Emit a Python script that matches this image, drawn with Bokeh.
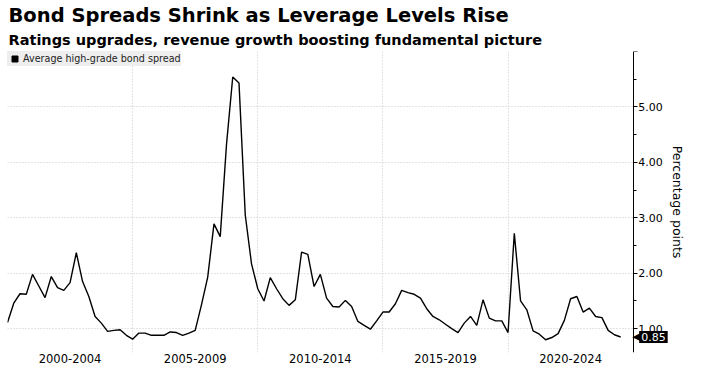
from bokeh.plotting import figure
from bokeh.models import (FixedTicker, NumeralTickFormatter, Range1d, Title, Legend,
                          LegendItem, Label, ColumnDataSource)
from bokeh.embed import file_html
from bokeh.resources import INLINE

# ---------------- data ----------------
title_text = "Bond Spreads Shrink as Leverage Levels Rise"
subtitle_text = "Ratings upgrades, revenue growth boosting fundamental picture"
series_name = "Average high-grade bond spread"
axis_title = "Percentage points"

start_year = 2000          # first quarter of the series (2000 Q1)
periods_per_year = 4       # quarterly observations

spread = [
    1.11, 1.46, 1.63, 1.62, 1.98, 1.77, 1.56, 1.94, 1.74, 1.69,
    1.83, 2.37, 1.85, 1.58, 1.22, 1.10, 0.95, 0.97, 0.98, 0.88,
    0.81, 0.92, 0.92, 0.88, 0.88, 0.88, 0.94, 0.93, 0.88, 0.92,
    0.97, 1.43, 1.93, 2.89, 2.66, 4.32, 5.54, 5.43, 3.05, 2.17,
    1.72, 1.50, 1.92, 1.72, 1.54, 1.42, 1.52, 2.38, 2.34, 1.76,
    1.98, 1.55, 1.40, 1.39, 1.51, 1.40, 1.13, 1.06, 0.99, 1.14,
    1.30, 1.30, 1.45, 1.69, 1.65, 1.62, 1.55, 1.36, 1.22, 1.16,
    1.08, 1.00, 0.93, 1.10, 1.22, 1.06, 1.52, 1.19, 1.14, 1.14,
    0.93, 2.72, 1.50, 1.34, 0.96, 0.90, 0.80, 0.84, 0.91, 1.15,
    1.54, 1.58, 1.30, 1.37, 1.22, 1.20, 0.97, 0.89, 0.85,
]

period_labels = ["2000-2004", "2005-2009", "2010-2014", "2015-2019", "2020-2024"]
period_starts = [2000, 2005, 2010, 2015, 2020]
period_length = 5

y_ticks = [1, 2, 3, 4, 5, 6]
y_minor_ticks = [0.5, 1.5, 2.5, 3.5, 4.5, 5.5]

# ---------------- derived ----------------
x_vals = [start_year + i / periods_per_year for i in range(len(spread))]
source = ColumnDataSource(data=dict(x=x_vals, y=spread))
label_positions = [s + period_length / 2 for s in period_starts]
x_end = period_starts[-1] + period_length   # where the value axis sits
x_view_end = x_end + 2.25                    # room right of the axis for its labels

FONT = "DejaVu Sans"

p = figure(width=689, height=365, output_backend="svg", toolbar_location=None,
           x_range=Range1d(start_year, x_view_end), y_range=Range1d(0.57, 6.0),
           y_axis_location="right", title=None,
           min_border_left=7, min_border_right=0, min_border_top=51, min_border_bottom=0)
p.outline_line_color = None
p.background_fill_color = "white"
p.border_fill_color = "white"

# titles (subtitle added first so it sits closest to the plot)
p.add_layout(Title(text=subtitle_text, text_font=FONT, text_font_size="14.5px",
                   text_font_style="bold", text_color="black", standoff=7,
                   offset=1), "above")
p.add_layout(Title(text=title_text, text_font=FONT, text_font_size="19.5px",
                   text_font_style="bold", text_color="black", standoff=0,
                   offset=1), "above")

# line
p.line("x", "y", source=source, line_color="black", line_width=1.4)

# legend square (invisible point, used only for the legend glyph)
sq = p.scatter(x=[float("nan")], y=[float("nan")], marker="square",
               fill_color="black", line_color="black")
legend = Legend(items=[LegendItem(label=series_name, renderers=[sq])],
                location="top_left", margin=0, padding=4, spacing=0,
                glyph_width=15, glyph_height=15, label_standoff=1,
                label_height=15, label_text_font=FONT, label_text_font_size="9.6px",
                label_text_color="#222222", background_fill_color="#eeeeee",
                background_fill_alpha=1.0, border_line_color=None)
p.add_layout(legend)

# grids
p.xgrid.ticker = FixedTicker(ticks=period_starts)
p.ygrid.ticker = FixedTicker(ticks=y_ticks)
for g in (p.xgrid[0], p.ygrid[0]):
    g.grid_line_color = "#c8c8c8"
    g.grid_line_dash = "1 2"
    g.grid_line_width = 1
if "cross_bounds" in p.ygrid[0].properties():
    p.ygrid[0].cross_bounds = (start_year, x_end)

# x axis: period labels, no line / ticks
xa = p.xaxis[0]
xa.ticker = FixedTicker(ticks=label_positions)
xa.major_label_overrides = {pos: lab for pos, lab in zip(label_positions, period_labels)}
xa.axis_line_color = None
xa.major_tick_line_color = None
xa.major_tick_out = 0
xa.major_tick_in = 0
xa.minor_tick_line_color = None
xa.minor_tick_out = 0
xa.major_label_text_font = FONT
xa.major_label_text_font_size = "11.5px"
xa.major_label_text_color = "black"
xa.major_label_standoff = 1

# y axis (right), pinned at the end of the time span
ya = p.yaxis[0]
ya.fixed_location = x_end
ya.ticker = FixedTicker(ticks=y_ticks, minor_ticks=y_minor_ticks)
ya.formatter = NumeralTickFormatter(format="0.00")
ya.major_label_overrides = {y_ticks[-1]: ""}
ya.axis_line_color = "black"
ya.axis_line_width = 1
ya.major_tick_line_color = "black"
ya.major_tick_out = 4
ya.major_tick_in = 0
ya.minor_tick_line_color = "black"
ya.minor_tick_out = 3
ya.minor_tick_in = 0
ya.major_label_text_font = FONT
ya.major_label_text_font_size = "11px"
ya.major_label_text_color = "black"
ya.major_label_standoff = 1
ya.axis_label = axis_title
ya.axis_label_text_font = FONT
ya.axis_label_text_font_size = "12.5px"
ya.axis_label_text_font_style = "normal"
ya.axis_label_text_color = "black"
ya.axis_label_standoff = 4

# last-value tag
last_val = spread[-1]
p.add_layout(Label(x=x_end, y=last_val, text="\u25c0", text_font=FONT,
                   text_font_size="11px", text_color="black",
                   text_baseline="middle", x_offset=-1))
p.add_layout(Label(x=x_end, y=last_val, text=f"{last_val:.2f}", text_font=FONT,
                   text_font_size="11px", text_color="white",
                   text_baseline="middle", x_offset=6,
                   background_fill_color="black", background_fill_alpha=1.0,
                   padding=2))

open("out.html", "w").write(file_html(p, INLINE))
